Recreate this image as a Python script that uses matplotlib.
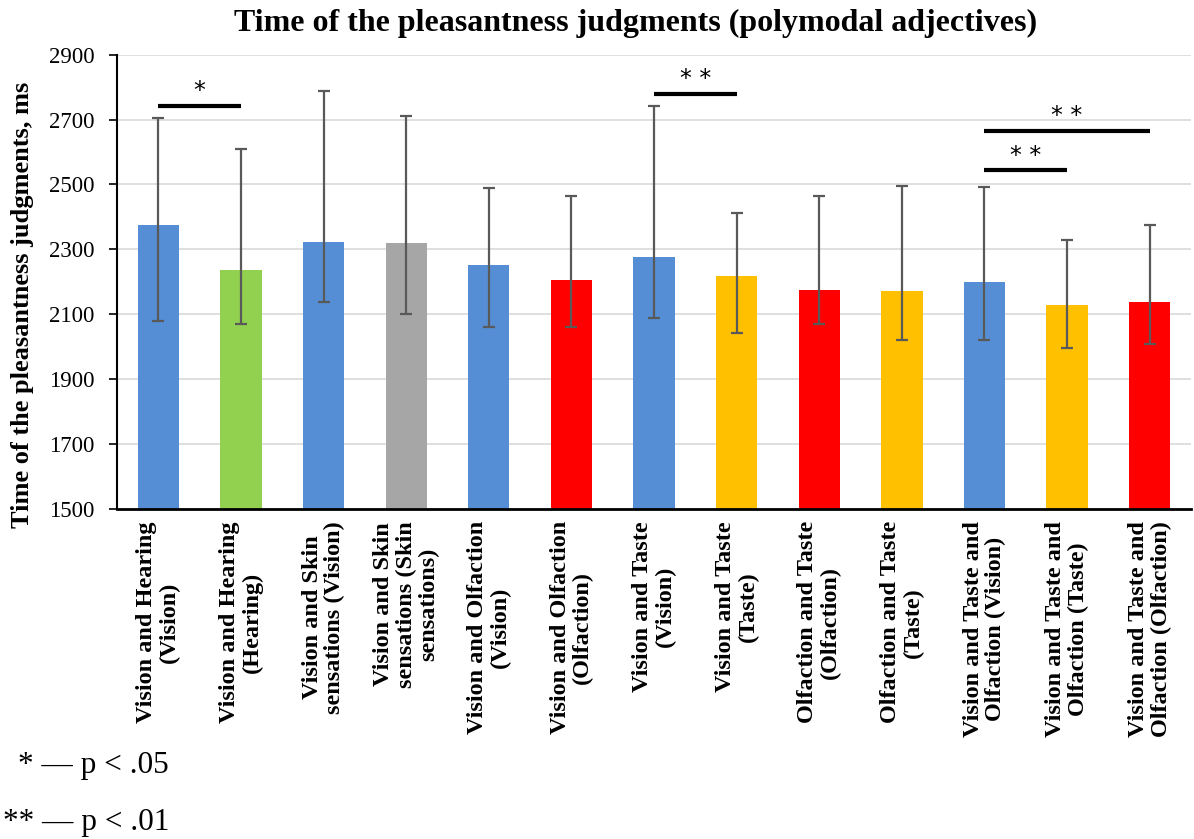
import matplotlib.pyplot as plt
import numpy as np

plt.rcParams['font.family'] = ['Liberation Serif', 'DejaVu Serif']

# Datos
categorias = [
    "Vision and Hearing\n(Vision)",
    "Vision and Hearing\n(Hearing)",
    "Vision and Skin\nsensations (Vision)",
    "Vision and Skin\nsensations (Skin\nsensations)",
    "Vision and Olfaction\n(Vision)",
    "Vision and Olfaction\n(Olfaction)",
    "Vision and Taste\n(Vision)",
    "Vision and Taste\n(Taste)",
    "Olfaction and Taste\n(Olfaction)",
    "Olfaction and Taste\n(Taste)",
    "Vision and Taste and\nOlfaction (Vision)",
    "Vision and Taste and\nOlfaction (Taste)",
    "Vision and Taste and\nOlfaction (Olfaction)",
]
medias = [2376, 2235, 2321, 2320, 2251, 2206, 2275, 2218, 2174, 2171, 2200, 2129, 2137]
error_sup = [2704, 2610, 2789, 2711, 2490, 2465, 2742, 2411, 2465, 2496, 2493, 2328, 2376]
error_inf = [2078, 2071, 2137, 2100, 2060, 2059, 2087, 2042, 2071, 2020, 2020, 1994, 2008]
colores = ["#558ED5", "#92D050", "#558ED5", "#A6A6A6", "#558ED5", "#FF0000", "#558ED5",
           "#FFC000", "#FF0000", "#FFC000", "#558ED5", "#FFC000", "#FF0000"]

# Comparaciones significativas: (barra i, barra j, altura, etiqueta)
comparaciones = [(0, 1, 2742, "*"), (6, 7, 2779, "* *"), (10, 11, 2543, "* *"), (10, 12, 2665, "* *")]

fig = plt.figure(figsize=(11.94, 8.39), dpi=100)
ax = fig.add_axes([0.098, 0.3937, 0.8995, 0.5411])

x = np.arange(len(categorias))
medias_arr = np.array(medias)
yerr = [medias_arr - np.array(error_inf), np.array(error_sup) - medias_arr]

ax.bar(x, medias, width=0.5, color=colores, zorder=2)
ax.errorbar(x, medias, yerr=yerr, fmt='none', ecolor='#595959', elinewidth=1.6,
            capsize=4.5, capthick=1.6, zorder=3)

for i, j, h, etiqueta in comparaciones:
    ax.plot([x[i], x[j]], [h, h], color='black', linewidth=3, solid_capstyle='butt', zorder=4)
    ax.text((x[i] + x[j]) / 2, h + 8, etiqueta, ha='center', va='bottom',
            fontsize=17, family='DejaVu Sans')

ax.set_xlim(-0.5, len(categorias) - 0.5)
ax.set_ylim(1500, 2900)
ax.set_yticks(np.arange(1500, 2901, 200))
ax.tick_params(axis='y', labelsize=16.5, length=6, width=1.2, direction='out', pad=10)
ax.tick_params(axis='x', length=0, pad=9)
ax.set_xticks(x)
ax.set_xticklabels(categorias, rotation=90, fontsize=17.5, fontweight='bold',
                   ha='center', va='top', multialignment='center', linespacing=1.1)

ax.grid(axis='y', color='#D9D9D9', linewidth=1.2, zorder=0)
ax.set_axisbelow(True)
for lado in ['top', 'right']:
    ax.spines[lado].set_visible(False)
ax.spines['left'].set_linewidth(1.5)
ax.spines['bottom'].set_linewidth(2)

# Etiqueta del eje y y título
fig.text(0.019, 0.637, "Time of the pleasantness judgments, ms", rotation=90,
         ha='center', va='center', fontsize=19, fontweight='bold')
fig.text(0.532, 0.972, "Time of the pleasantness judgments (polymodal adjectives)",
         ha='center', va='center', fontsize=23, fontweight='bold')

# Nota de significancia
fig.text(0.1415, 0.0787, "* \u2014 p < .05", ha='right', va='baseline', fontsize=22.5)
fig.text(0.1415, 0.0107, "** \u2014 p < .01", ha='right', va='baseline', fontsize=22.5)

plt.savefig("out.png", dpi=100)
